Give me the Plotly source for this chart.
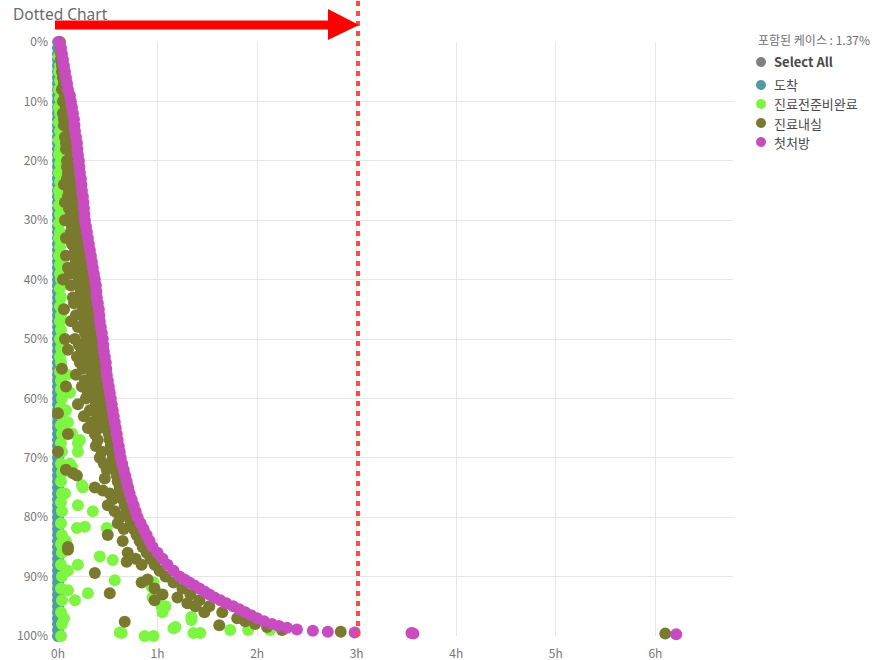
import plotly.graph_objects as go

# ---------------- data ----------------
x_tick_vals = [0, 1, 2, 3, 4, 5, 6]
x_tick_text = ["0h", "1h", "2h", "3h", "4h", "5h", "6h"]
y_tick_vals = [0, 10, 20, 30, 40, 50, 60, 70, 80, 90, 100]
y_tick_text = ["0%", "10%", "20%", "30%", "40%", "50%", "60%", "70%", "80%", "90%", "100%"]

series_names = ["도착", "진료전준비완료", "진료내실", "첫처방"]
select_all_label = "Select All"
legend_title = "포함된 케이스 : 1.37%"
chart_title = "Dotted Chart"

# 도착 (arrival) – all at 0h
arrive_y = [0, 1, 2, 3, 4, 5, 6, 7, 8, 9, 10, 11, 12, 13, 14, 15, 16, 17, 18, 19, 20,
            21, 22, 23, 24, 25, 26, 27, 28, 29, 30, 31, 32, 33, 34, 35, 36, 37, 38, 39, 40,
            41, 42, 43, 44, 45, 46, 47, 48, 49, 50, 51, 52, 53, 54, 55, 56, 57, 58, 59, 60,
            61, 62, 63, 64, 65, 66, 67, 68, 69, 70, 71, 72, 73, 74, 75, 76, 77, 78, 79, 80,
            81, 82, 83, 84, 85, 86, 87, 88, 89, 90, 91, 92, 93, 94, 95, 96, 97, 98, 99, 100]
arrive_x = [0] * 101

# 진료전준비완료 (ready) – column near 0h plus scattered points
ready_y = [0, 1, 2.5, 4, 5, 6.5, 8, 9.5, 11, 12, 13.5, 15, 16.5, 18, 19, 20.5, 22, 23.5, 25, 26,
           27.5, 29, 30.5, 32, 33, 34.5, 36, 37.5, 39, 40, 41.5, 43, 44.5, 46, 47, 48.5, 50, 51.5,
           53, 54, 55.5, 57, 58.5, 60, 61.5, 63, 64.5, 66, 67.5, 69, 71, 72.5, 74, 76, 77.5, 79,
           81, 83, 84.5, 86, 88, 90, 92, 94, 96, 98, 100,
           65.9, 67.5, 69, 74.6, 78, 79, 81.8, 81.6, 81.8, 86.6, 87.2, 88, 90.6, 92.8, 94, 92.3,
           91.7, 93.5, 95, 96, 96.8, 98.5, 99.5, 100, 99.5, 99, 99, 99, 91, 95, 98.7, 97.3, 99.5,
           100, 62, 64, 71, 76, 84, 89, 97, 99.4, 56, 59, 67, 71.5, 75]
ready_x = [0.01, 0.02, 0.01, 0.02, 0.01, 0.02, 0.01, 0.02, 0.01, 0.02, 0.01, 0.02, 0.01, 0.02,
           0.01, 0.02, 0.01, 0.02, 0.01, 0.02, 0.01, 0.02, 0.01, 0.02, 0.01, 0.02, 0.01, 0.02,
           0.02, 0.03, 0.02, 0.03, 0.02, 0.03, 0.02, 0.03, 0.02, 0.03, 0.02, 0.03, 0.02, 0.03,
           0.03, 0.04, 0.03, 0.04, 0.03, 0.04, 0.03, 0.04, 0.03, 0.04, 0.03, 0.04, 0.03, 0.04,
           0.03, 0.04, 0.03, 0.04, 0.03, 0.04, 0.03, 0.04, 0.03, 0.04, 0.03,
           0.14, 0.20, 0.20, 0.24, 0.20, 0.35, 0.19, 0.27, 0.49, 0.42, 0.55, 0.20, 0.57, 0.30,
           0.17, 0.10, 0.94, 0.95, 1.04, 1.05, 1.34, 1.18, 0.64, 0.87, 1.36, 1.73, 1.91, 2.13,
           0.96, 1.08, 1.16, 1.34, 1.43, 0.96, 0.08, 0.10, 0.12, 0.07, 0.08, 0.10, 0.06, 0.62,
           0.09, 0.12, 0.22, 0.14, 0.25]

# 진료내실 (in room)
room_y = [0, 1, 2, 3, 4, 5, 6, 7, 8, 9, 10, 11, 12, 13, 14, 15, 16, 17, 18, 19, 20, 21, 22, 23,
          24, 25, 26, 27, 28, 29, 30, 31, 32, 33, 34, 35, 36, 37, 38, 39, 40, 41, 42, 43, 44, 45,
          46, 47, 48, 49, 50, 51, 52, 53, 54, 55, 56, 57, 58, 59, 60, 61, 62, 63, 64, 65, 66, 67,
          68, 69, 70, 71, 72, 73, 74, 75, 76, 77, 78, 79, 80, 81, 82, 83, 84, 85, 86, 87, 88, 89,
          90, 91, 92, 93, 94, 95, 96, 97, 97.5, 98, 98.5, 99, 99.3, 99.6,
          8, 10, 12, 13, 14, 16, 17, 18, 20, 21, 22, 23, 24, 25, 26, 27, 28, 29, 30, 31, 32, 33,
          34, 35, 36, 37, 38, 39, 40, 41, 42, 43, 44, 45, 46, 47, 48, 49, 50, 51, 52, 53, 54, 55,
          56, 57, 58, 59, 60, 61, 62, 63, 64, 65,
          24, 27, 30, 33, 36, 38, 39, 41, 43, 44, 46, 47, 48, 50, 51, 52, 53, 54, 55, 56, 57, 58,
          59, 60, 61, 62, 63, 64, 65, 66, 67, 68, 69, 70, 71, 72, 73, 73.5, 75, 75.5, 76, 77, 78,
          79, 80, 81, 82, 83, 84, 85.5, 86, 87, 87.5, 88, 89.4, 90.5, 91, 92, 92.8, 93, 93.5, 94,
          94.5, 95, 96, 97.6, 98.2, 62.5, 69, 40, 45, 50, 55, 58, 66, 72,
          3, 5, 7, 9, 11, 15, 19, 51.8, 72.6, 85]
room_x = [0.02, 0.02, 0.03, 0.03, 0.04, 0.04, 0.05, 0.06, 0.06, 0.07, 0.08, 0.08, 0.09, 0.10,
          0.10, 0.11, 0.12, 0.12, 0.13, 0.13, 0.14, 0.15, 0.15, 0.16, 0.16, 0.17, 0.17, 0.18,
          0.18, 0.19, 0.20, 0.20, 0.21, 0.22, 0.23, 0.24, 0.25, 0.26, 0.27, 0.28, 0.29, 0.30,
          0.30, 0.31, 0.32, 0.33, 0.33, 0.34, 0.35, 0.36, 0.37, 0.37, 0.38, 0.39, 0.40, 0.40,
          0.41, 0.42, 0.43, 0.44, 0.45, 0.46, 0.47, 0.48, 0.49, 0.50, 0.51, 0.52, 0.53, 0.54,
          0.55, 0.56, 0.58, 0.59, 0.60, 0.62, 0.63, 0.65, 0.67, 0.69, 0.71, 0.73, 0.76, 0.79,
          0.82, 0.85, 0.89, 0.93, 0.97, 1.02, 1.08, 1.16, 1.25, 1.33, 1.42, 1.52, 1.65, 1.80,
          1.88, 1.98, 2.10, 2.25, 2.84, 6.10,
          0.04, 0.05, 0.05, 0.06, 0.06, 0.07, 0.08, 0.08, 0.09, 0.09, 0.10, 0.09, 0.10, 0.11,
          0.10, 0.12, 0.11, 0.13, 0.12, 0.14, 0.13, 0.15, 0.14, 0.17, 0.16, 0.18, 0.19, 0.20,
          0.21, 0.20, 0.23, 0.22, 0.24, 0.25, 0.26, 0.27, 0.28, 0.27, 0.29, 0.30, 0.31, 0.30,
          0.32, 0.33, 0.34, 0.35, 0.33, 0.36, 0.37, 0.38, 0.36, 0.40, 0.41, 0.42,
          0.06, 0.07, 0.07, 0.08, 0.08, 0.10, 0.12, 0.13, 0.15, 0.16, 0.18, 0.13, 0.20, 0.17,
          0.21, 0.24, 0.19, 0.22, 0.25, 0.18, 0.27, 0.24, 0.30, 0.28, 0.20, 0.32, 0.26, 0.34,
          0.30, 0.37, 0.40, 0.38, 0.44, 0.42, 0.46, 0.49, 0.19, 0.47, 0.37, 0.45, 0.52, 0.55,
          0.50, 0.57, 0.62, 0.60, 0.66, 0.50, 0.65, 0.10, 0.70, 0.78, 0.69, 0.84, 0.37, 0.90,
          0.84, 0.97, 0.52, 1.05, 1.20, 0.97, 1.30, 1.38, 1.47, 0.67, 1.62, 0.0, 0.0, 0.05,
          0.06, 0.07, 0.04, 0.08, 0.10, 0.08,
          0.03, 0.05, 0.07, 0.09, 0.10, 0.13, 0.16, 0.10, 0.15, 0.10]

# 첫처방 (first prescription)
rx_y = [0, 1, 2, 3, 4, 5, 6, 7, 8, 9, 10, 11, 12, 13, 14, 15, 16, 17, 18, 19, 20, 21, 22, 23,
        24, 25, 26, 27, 28, 29, 30, 31, 32, 33, 34, 35, 36, 37, 38, 39, 40, 41, 42, 43, 44, 45,
        46, 47, 48, 49, 50, 51, 52, 53, 54, 55, 56, 57, 58, 59, 60, 61, 62, 63, 64, 65, 66, 67,
        68, 69, 70, 71, 72, 73, 74, 75, 76, 77, 78, 79, 80, 81, 82, 83, 84, 85, 86, 87, 88, 89,
        90, 90.5, 91, 91.5, 92, 92.5, 93, 93.5, 94, 94.5, 95, 95.5, 96, 96.5, 97, 97.5, 98, 98.3,
        98.6, 98.9, 99.1, 99.3, 99.4, 99.5, 99.6, 99.7]
rx_x = [0.01, 0.03, 0.04, 0.05, 0.06, 0.07, 0.08, 0.09, 0.10, 0.12, 0.13, 0.14, 0.15, 0.16,
        0.165, 0.17, 0.18, 0.19, 0.195, 0.20, 0.21, 0.215, 0.22, 0.23, 0.235, 0.24, 0.25, 0.255,
        0.26, 0.265, 0.27, 0.28, 0.29, 0.30, 0.31, 0.32, 0.33, 0.34, 0.35, 0.36, 0.37, 0.38,
        0.385, 0.39, 0.40, 0.41, 0.415, 0.42, 0.43, 0.44, 0.45, 0.455, 0.46, 0.47, 0.48, 0.485,
        0.49, 0.50, 0.51, 0.52, 0.53, 0.54, 0.55, 0.56, 0.57, 0.58, 0.59, 0.60, 0.61, 0.62,
        0.63, 0.645, 0.66, 0.675, 0.69, 0.705, 0.72, 0.74, 0.76, 0.78, 0.80, 0.83, 0.86, 0.89,
        0.92, 0.95, 1.00, 1.05, 1.10, 1.16, 1.22, 1.27, 1.32, 1.37, 1.42, 1.47, 1.52, 1.57,
        1.63, 1.69, 1.76, 1.82, 1.88, 1.94, 2.00, 2.07, 2.15, 2.22, 2.30, 2.40, 2.56, 2.71,
        2.98, 3.55, 3.57, 6.21]

# ---------------- style ----------------
colors = ["#4e9c9e", "#7ef542", "#7a7a2e", "#c84cc0"]
select_all_color = "#808080"
cjk_font = "Noto Sans CJK KR, Noto Sans, sans-serif"

W, H = 879, 660
ML, MR, MT, MB = 58, 146, 42, 24
PW, PH = W - ML - MR, H - MT - MB


def px_x(px):
    return (px - ML) / PW


def px_y(py):
    return (H - MB - py) / PH


fig = go.Figure()

for name, xs, ys, col in zip(series_names,
                             [arrive_x, ready_x, room_x, rx_x],
                             [arrive_y, ready_y, room_y, rx_y],
                             colors):
    fig.add_trace(go.Scatter(x=xs, y=ys, mode="markers", name=name, cliponaxis=False,
                             showlegend=False,
                             marker=dict(color=col, size=12, line=dict(width=0))))

# red dotted vertical line (extends above plot)
fig.add_shape(type="line", xref="paper", yref="paper", x0=px_x(358), x1=px_x(358), y0=0,
              y1=px_y(0), line=dict(color="#ff4a4a", width=4, dash="5px,5px"), layer="above")
# red arrow
fig.add_shape(type="line", xref="paper", yref="paper", x0=px_x(55), x1=px_x(329),
              y0=px_y(25), y1=px_y(25), line=dict(color="#ff0000", width=9), layer="above")
fig.add_shape(type="path", xref="paper", yref="paper",
              path=f"M {px_x(328)} {px_y(9)} L {px_x(359)} {px_y(25)} L {px_x(328)} {px_y(40)} Z",
              fillcolor="#ff0000", line=dict(color="#ff0000", width=0), layer="above")

# legend (drawn manually to match the reference spacing)
legend_labels = [f"<b>{select_all_label}</b>"] + series_names
legend_colors = [select_all_color] + colors
legend_rows_px = [62, 85, 104, 123, 142]
fig.add_annotation(xref="paper", yref="paper", x=px_x(756), y=px_y(40), xanchor="left",
                   yanchor="middle", text=legend_title, showarrow=False,
                   font=dict(size=12, color="#707070", family=cjk_font))
for lab, col, ry in zip(legend_labels, legend_colors, legend_rows_px):
    fig.add_shape(type="circle", xref="paper", yref="paper", xsizemode="pixel",
                  ysizemode="pixel", xanchor=px_x(761), yanchor=px_y(ry),
                  x0=-5, x1=5, y0=-5, y1=5, fillcolor=col, line=dict(width=0))
    fig.add_annotation(xref="paper", yref="paper", x=px_x(773), y=px_y(ry), xanchor="left",
                       yanchor="middle", text=lab, showarrow=False, borderpad=0,
                       font=dict(size=13, color="#4a4a4a", family=cjk_font))

fig.update_layout(
    width=W, height=H,
    paper_bgcolor="white", plot_bgcolor="white",
    margin=dict(l=ML, r=MR, t=MT, b=MB, autoexpand=False),
    font=dict(family=cjk_font, size=12, color="#777777"),
    title=dict(text=chart_title, x=13 / W, xanchor="left", xref="container",
               y=1 - 15 / H, yanchor="middle", yref="container",
               font=dict(size=15.5, color="#6a6a6a", family="Noto Sans, sans-serif")),
    showlegend=False,
    xaxis=dict(range=[0, 6.78], tickvals=x_tick_vals, ticktext=x_tick_text,
               showgrid=True, gridcolor="#e6e6e6", gridwidth=1, zeroline=False,
               showline=False, ticks="", ticklabelstandoff=9,
               tickfont=dict(size=12, color="#777777")),
    yaxis=dict(range=[100, 0], tickvals=y_tick_vals, ticktext=y_tick_text,
               showgrid=True, gridcolor="#e6e6e6", gridwidth=1, zeroline=False,
               showline=False, ticks="", ticklabelstandoff=9,
               tickfont=dict(size=12, color="#777777")),
)

fig.write_html("out.html", config={"displayModeBar": False},
               post_script="document.body.style.margin='0px';")
